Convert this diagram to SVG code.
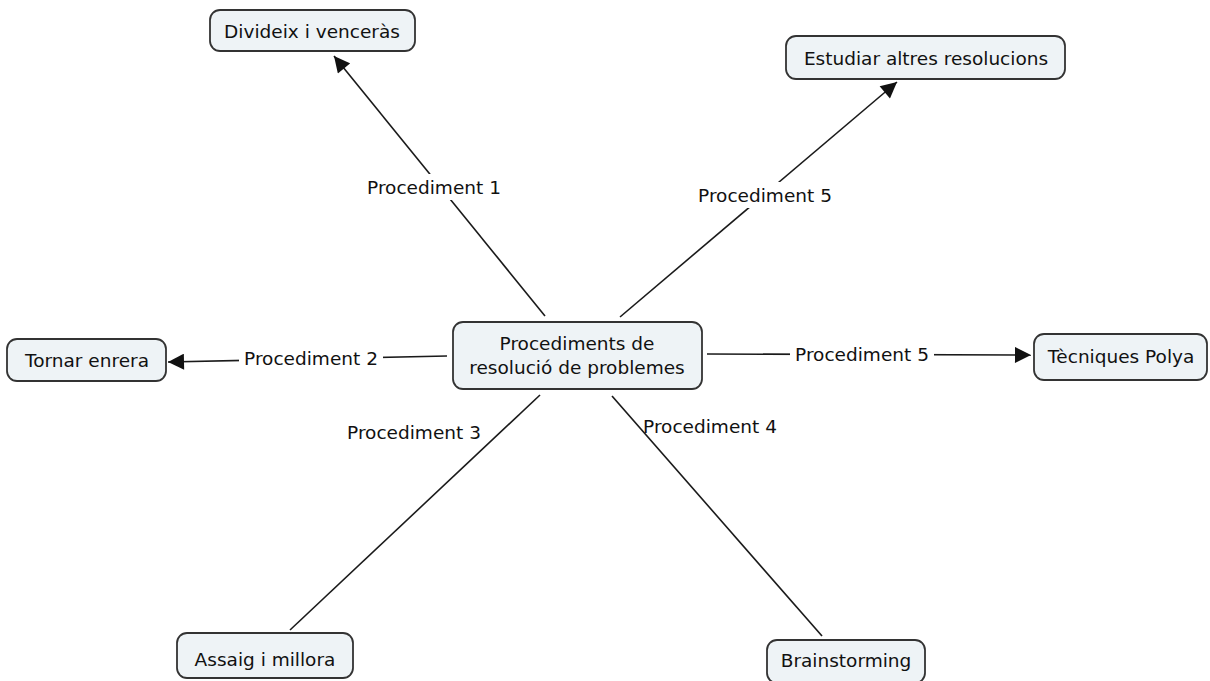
<svg xmlns="http://www.w3.org/2000/svg" width="1210" height="681" viewBox="0 0 1210 681">
  <style>
    .node rect { fill: #eef3f6; stroke: #333; stroke-width: 1.8; }
    .node text { font-family: "DejaVu Sans", "Liberation Sans", sans-serif; font-size: 18.5px; fill: #111; text-anchor: middle; }
    .link { stroke: #1a1a1a; stroke-width: 1.6; fill: none; }
    .label { font-family: "DejaVu Sans", "Liberation Sans", sans-serif; font-size: 18.5px; fill: #111; text-anchor: middle; }
    .label-bg { fill: #ffffff; }
  </style>
  <defs>
    <marker id="arrow" viewBox="0 0 10 10" refX="10" refY="5" markerWidth="18" markerHeight="16" markerUnits="userSpaceOnUse" orient="auto">
      <path d="M0,0 L10,5 L0,10 z" fill="#111"/>
    </marker>
  </defs>

  <rect width="1210" height="681" fill="#ffffff"/>

  <!-- connectors -->
  <g id="connectors">
    <line class="link" x1="545" y1="316" x2="334" y2="56" marker-end="url(#arrow)"/>
    <line class="link" x1="620" y1="317" x2="897" y2="82" marker-end="url(#arrow)"/>
    <line class="link" x1="447" y1="356" x2="168" y2="362" marker-end="url(#arrow)"/>
    <line class="link" x1="707" y1="354" x2="1031" y2="355" marker-end="url(#arrow)"/>
    <line class="link" x1="540" y1="395" x2="290" y2="630"/>
    <line class="link" x1="612" y1="396" x2="822" y2="636"/>

    <rect class="label-bg" x="362" y="174" width="144" height="26"/>
    <text class="label" x="434" y="194">Procediment 1</text>

    <rect class="label-bg" x="693" y="182" width="144" height="26"/>
    <text class="label" x="765" y="202">Procediment 5</text>

    <rect class="label-bg" x="239" y="345" width="144" height="26"/>
    <text class="label" x="311" y="365">Procediment 2</text>

    <rect class="label-bg" x="790" y="341" width="144" height="26"/>
    <text class="label" x="862" y="361">Procediment 5</text>

    <text class="label" x="414" y="439">Procediment 3</text>
    <text class="label" x="710" y="433">Procediment 4</text>
  </g>

  <!-- nodes -->
  <g id="center" class="node">
    <rect x="453" y="322" width="249" height="67" rx="10"/>
    <text x="577" y="350">Procediments de</text>
    <text x="577" y="374">resolució de problemes</text>
  </g>
  <g id="divideix" class="node">
    <rect x="210" y="10" width="205" height="41" rx="10"/>
    <text x="312" y="38">Divideix i venceràs</text>
  </g>
  <g id="estudiar" class="node">
    <rect x="786" y="36" width="279" height="43" rx="10"/>
    <text x="926" y="65">Estudiar altres resolucions</text>
  </g>
  <g id="tornar" class="node">
    <rect x="7" y="339" width="159" height="42" rx="10"/>
    <text x="87" y="367">Tornar enrera</text>
  </g>
  <g id="tecniques" class="node">
    <rect x="1034" y="334" width="173" height="46" rx="10"/>
    <text x="1121" y="363">Tècniques Polya</text>
  </g>
  <g id="assaig" class="node">
    <rect x="177" y="633" width="176" height="45" rx="10"/>
    <text x="265" y="666">Assaig i millora</text>
  </g>
  <g id="brainstorming" class="node">
    <rect x="767" y="640" width="158" height="43" rx="10"/>
    <text x="846" y="667">Brainstorming</text>
  </g>
</svg>
